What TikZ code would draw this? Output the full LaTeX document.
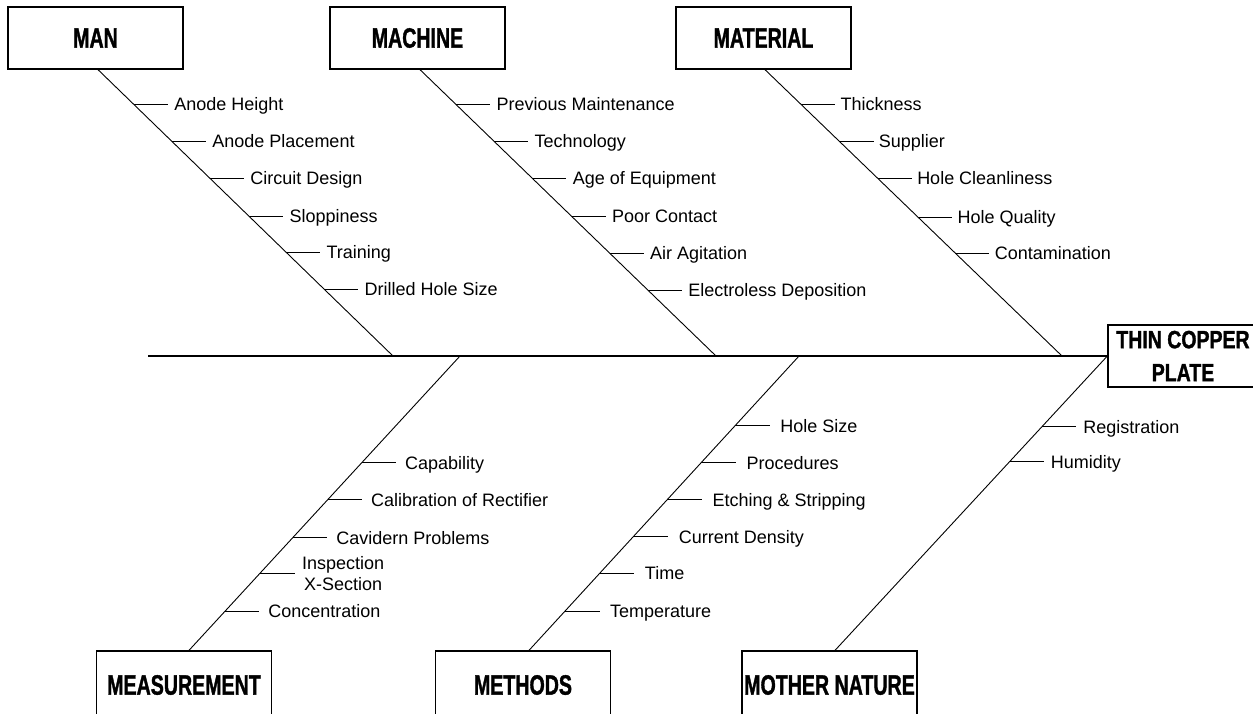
\documentclass[tikz,border=0pt]{standalone}
\usepackage{fontspec}
\setmainfont{Liberation Sans}
\newfontfamily\catfont[FakeStretch=0.7,FakeBold=1.2]{Liberation Sans}
\newfontfamily\headfont[FakeStretch=0.78,FakeBold=1.2]{Liberation Sans}
\usetikzlibrary{calc,positioning}
\tikzset{
	every picture/.style={x=1pt,y=-1pt},
	catbox/.style={draw, line width=1.3pt, minimum width=175pt, minimum height=62pt, inner sep=0,
		font=\catfont\bfseries\fontsize{28}{30}\selectfont},
	headbox/.style={draw, line width=1.3pt, minimum width=150pt, minimum height=62pt, inner sep=0,
		align=center, font=\headfont\bfseries\fontsize{25}{33}\selectfont},
	spine/.style={line width=1.2pt},
	bone/.style={line width=0.9pt},
	rib/.style={line width=0.9pt},
	cause/.style={anchor=base west, inner sep=0, xshift=#1, yshift=-6.4pt,
		font=\fontsize{18}{21}\selectfont},
	cause/.default=6pt
}

\begin{document}
\begin{tikzpicture}
	\useasboundingbox (0,0) rectangle (1253,713);

	\node[catbox] (man) at (95.5,38) {MAN};
	\node[catbox] (machine) at (417.5,38) {MACHINE};
	\node[catbox] (material) at (763.5,38) {MATERIAL};
	\node[catbox, minimum height=68pt] (measurement) at (184,685) {MEASUREMENT};
	\node[catbox, minimum height=68pt] (methods) at (523,685) {METHODS};
	\node[catbox, minimum height=68pt] (nature) at (829.5,685) {MOTHER NATURE};
	\node[headbox] (head) at (1183,356) {THIN COPPER\\PLATE};

	\coordinate (tail) at (148,356);
	\coordinate (manend) at (393,356);
	\coordinate (machineend) at (716,356);
	\coordinate (materialend) at (1062,356);
	\coordinate (measend) at (460,356);
	\coordinate (methodsend) at (799,356);

	\draw[spine] (tail) -- (head.west);

	\draw[bone] ([xshift=2.5pt]man.south) coordinate (manstart) -- (manend);
	\draw[bone] ([xshift=2.5pt]machine.south) coordinate (machinestart) -- (machineend);
	\draw[bone] ([xshift=1.5pt]material.south) coordinate (materialstart) -- (materialend);
	\draw[bone] ([xshift=5pt]measurement.north) coordinate (measstart) -- (measend);
	\draw[bone] ([xshift=6pt]methods.north) coordinate (methodsstart) -- (methodsend);
	\draw[bone] ([xshift=5.5pt]nature.north) coordinate (naturestart) -- (head.west);

	% upper causes
	\foreach \y/\lbl in {104/Anode Height, 141/Anode Placement, 178/Circuit Design,
		216/Sloppiness, 252/Training, 289/Drilled Hole Size}
		\draw[rib] ($(manstart)!{(\y-69)/287}!(manend)$) -- ++(34,0) node[cause] (man-\y) {\lbl};
	\foreach \y/\lbl in {104/Previous Maintenance, 141/Technology, 178/Age of Equipment,
		216/Poor Contact, 253/Air Agitation, 290/Electroless Deposition}
		\draw[rib] ($(machinestart)!{(\y-69)/287}!(machineend)$) -- ++(34,0) node[cause] (machine-\y) {\lbl};
	\foreach \y/\lbl in {104/Thickness, 141/Supplier, 178/Hole Cleanliness,
		217/Hole Quality, 253/Contamination}
		\draw[rib] ($(materialstart)!{(\y-69)/287}!(materialend)$) -- ++(34,0) node[cause=5pt] (material-\y) {\lbl};

	% lower causes
	\foreach \y/\lbl in {463/Capability, 500/Calibration of Rectifier, 538/Cavidern Problems, 612/Concentration}
		\draw[rib] ($(measend)!{(\y-356)/295}!(measstart)$) -- ++(34,0) node[cause=9pt] (meas-\y) {\lbl};
	\draw[rib] ($(measend)!{(574-356)/295}!(measstart)$) -- ++(35,0)
		node[anchor=west, inner sep=0, xshift=7pt, align=center, font=\fontsize{18}{21}\selectfont] (meas-574) {Inspection\\X-Section};
	\foreach \y/\lbl in {426/Hole Size, 463/Procedures, 500/Etching \& Stripping,
		537/Current Density, 574/Time, 612/Temperature}
		\draw[rib] ($(methodsend)!{(\y-356)/295}!(methodsstart)$) -- ++(35,0) node[cause=10pt] (methods-\y) {\lbl};
	\foreach \y/\lbl in {427/Registration, 462/Humidity}
		\draw[rib] ($(head.west)!{(\y-356)/295}!(naturestart)$) -- ++(34,0) node[cause=7pt] (nature-\y) {\lbl};
\end{tikzpicture}
\end{document}
